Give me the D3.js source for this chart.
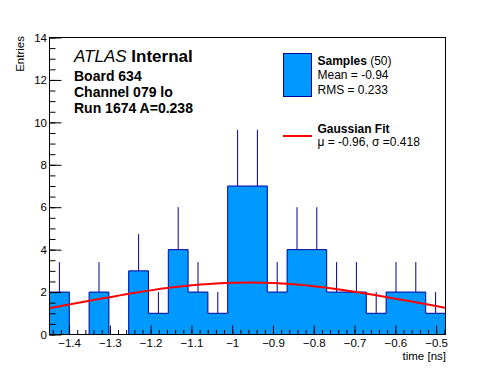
<!DOCTYPE html>
<html>
<head>
<meta charset="utf-8">
<script src="https://cdn.jsdelivr.net/npm/d3@7"></script>
<style>
  html, body { margin: 0; padding: 0; background: #fff; }
  svg { display: block; font-family: "Liberation Sans", Arial, Helvetica, sans-serif; }
</style>
</head>
<body>
<svg id="chart" width="496" height="372"></svg>
<script>
// ---- data ----
const xMin = -1.448, xMax = -0.477;
const binCounts = [2, 0, 2, 0, 3, 1, 4, 2, 1, 7, 7, 2, 4, 4, 2, 2, 1, 2, 2, 1];
const fitX = [-1.45, -1.40, -1.35, -1.30, -1.25, -1.20, -1.15, -1.10, -1.05, -1.00, -0.95,
              -0.90, -0.85, -0.80, -0.75, -0.70, -0.65, -0.60, -0.55, -0.50, -0.45];
const fitY = [1.23, 1.41, 1.59, 1.76, 1.93, 2.08, 2.21, 2.32, 2.39, 2.44, 2.45,
              2.43, 2.37, 2.28, 2.16, 2.02, 1.86, 1.69, 1.52, 1.34, 1.16];
const xTickValues = [-1.4, -1.3, -1.2, -1.1, -1.0, -0.9, -0.8, -0.7, -0.6, -0.5];
const xTickLabels = ["\u22121.4", "\u22121.3", "\u22121.2", "\u22121.1", "\u22121", "\u22120.9", "\u22120.8", "\u22120.7", "\u22120.6", "\u22120.5"];
const yTickValues = [0, 2, 4, 6, 8, 10, 12, 14];
const yTickLabels = ["0", "2", "4", "6", "8", "10", "12", "14"];
const infoLines = ["Board 634", "Channel 079 lo", "Run 1674 A=0.238"];
const legendSamples = { title: "Samples", count: "(50)", mean: "Mean = -0.94", rms: "RMS = 0.233" };
const legendFit = { title: "Gaussian Fit", params: "\u03bc = -0.96, \u03c3 =0.418" };

// ---- layout ----
const L = 49.5, R = 445.5, T = 37.5, B = 334.5;
const fillColor = "#0099ff", lineColor = "#000099", fitColor = "#ff0000";
const svg = d3.select("#chart");
const x = d3.scaleLinear().domain([xMin, xMax]).range([L, R]);
const y = d3.scaleLinear().domain([0, 14]).range([B, T]);

const nBins = binCounts.length;
const bw = (xMax - xMin) / nBins;
const bins = binCounts.map((c, i) => ({ x0: xMin + i * bw, x1: xMin + (i + 1) * bw, c }));

// histogram area (step)
const pts = [[x(xMin), y(0)]];
bins.forEach(b => { pts.push([x(b.x0), y(b.c)]); pts.push([x(b.x1), y(b.c)]); });
pts.push([x(xMax), y(0)]);
svg.append("path").attr("d", d3.line()(pts) + "Z")
  .attr("fill", fillColor).attr("stroke", "none");
svg.append("path").attr("d", d3.line()(pts))
  .attr("fill", "none").attr("stroke", lineColor).attr("stroke-width", 1);

// error bars (upper half visible)
svg.append("g").selectAll("line").data(bins.filter(b => b.c > 0)).join("line")
  .attr("x1", b => x((b.x0 + b.x1) / 2)).attr("x2", b => x((b.x0 + b.x1) / 2))
  .attr("y1", b => y(b.c)).attr("y2", b => y(b.c + Math.sqrt(b.c)))
  .attr("stroke", lineColor).attr("stroke-width", 1);

// fit curve
svg.append("clipPath").attr("id", "clip").append("rect")
  .attr("x", L).attr("y", T).attr("width", R - L).attr("height", B - T);
svg.append("path")
  .attr("clip-path", "url(#clip)")
  .attr("d", d3.line().x((d, i) => x(fitX[i])).y(d => y(d)).curve(d3.curveMonotoneX)(fitY))
  .attr("fill", "none").attr("stroke", fitColor).attr("stroke-width", 2);

// frame
svg.append("rect").attr("x", L).attr("y", T).attr("width", R - L).attr("height", B - T)
  .attr("fill", "none").attr("stroke", "#000").attr("stroke-width", 1);

// x axis
const xMinor = d3.range(-1.44, -0.477, 0.02).map(v => +v.toFixed(2));
const xAxis = d3.axisBottom(x).tickValues(xMinor).tickSize(-4.5).tickFormat("").tickSizeOuter(0);
const gx = svg.append("g").attr("transform", `translate(0,${B})`).call(xAxis);
const xMaj = d3.axisBottom(x).tickValues(xTickValues).tickSize(-9).tickSizeOuter(0)
  .tickFormat((d, i) => xTickLabels[i]);
const gx2 = svg.append("g").attr("transform", `translate(0,${B})`).call(xMaj);
[gx, gx2].forEach(g => { g.select(".domain").remove(); g.selectAll("line").attr("stroke", "#000"); });
gx2.selectAll("text").attr("y", 4).attr("dy", "0.71em").attr("font-size", "11.5px")
  .attr("fill", "#000").attr("font-family", "Liberation Sans, Arial, sans-serif");

// y axis
const yMinor = d3.range(0, 14.01, 0.5);
const yAxis = d3.axisLeft(y).tickValues(yMinor).tickSize(-6).tickFormat("").tickSizeOuter(0);
const gy = svg.append("g").attr("transform", `translate(${L},0)`).call(yAxis);
const yMaj = d3.axisLeft(y).tickValues(yTickValues).tickSize(-12).tickSizeOuter(0)
  .tickFormat((d, i) => yTickLabels[i]);
const gy2 = svg.append("g").attr("transform", `translate(${L},0)`).call(yMaj);
[gy, gy2].forEach(g => { g.select(".domain").remove(); g.selectAll("line").attr("stroke", "#000"); });
gy2.selectAll("text").attr("x", -2.5).attr("font-size", "11.5px")
  .attr("fill", "#000").attr("font-family", "Liberation Sans, Arial, sans-serif");

// axis titles
svg.append("text").attr("x", 446).attr("y", 360).attr("text-anchor", "end")
  .attr("font-size", "11.5px").text("time [ns]");
svg.append("text").attr("transform", "translate(24,36) rotate(-90)").attr("text-anchor", "end")
  .attr("font-size", "11.5px").text("Entries");

// ATLAS label
const at = svg.append("text").attr("x", 74).attr("y", 62).attr("font-size", "17px");
at.append("tspan").attr("font-style", "italic").text("ATLAS");
at.append("tspan").attr("font-weight", "bold").text(" Internal");
svg.append("g").selectAll("text").data(infoLines).join("text")
  .attr("x", 74).attr("y", (d, i) => 81 + i * 16)
  .attr("font-size", "14px").attr("font-weight", "bold").text(d => d);

// legend
svg.append("rect").attr("x", 283.5).attr("y", 53.5).attr("width", 28).attr("height", 43)
  .attr("fill", fillColor).attr("stroke", lineColor).attr("stroke-width", 1);
const st = svg.append("text").attr("x", 317.5).attr("y", 65).attr("font-size", "12px");
st.append("tspan").attr("font-weight", "bold").text(legendSamples.title);
st.append("tspan").text(" " + legendSamples.count);
svg.append("text").attr("x", 317.5).attr("y", 79).attr("font-size", "12px").text(legendSamples.mean);
svg.append("text").attr("x", 317.5).attr("y", 93.5).attr("font-size", "12px").text(legendSamples.rms);

svg.append("line").attr("x1", 283).attr("x2", 312).attr("y1", 136).attr("y2", 136)
  .attr("stroke", fitColor).attr("stroke-width", 2);
svg.append("text").attr("x", 317.5).attr("y", 132.5).attr("font-size", "12px")
  .attr("font-weight", "bold").text(legendFit.title);
svg.append("text").attr("x", 317.5).attr("y", 145.5).attr("font-size", "12px").text(legendFit.params);
</script>
</body>
</html>
